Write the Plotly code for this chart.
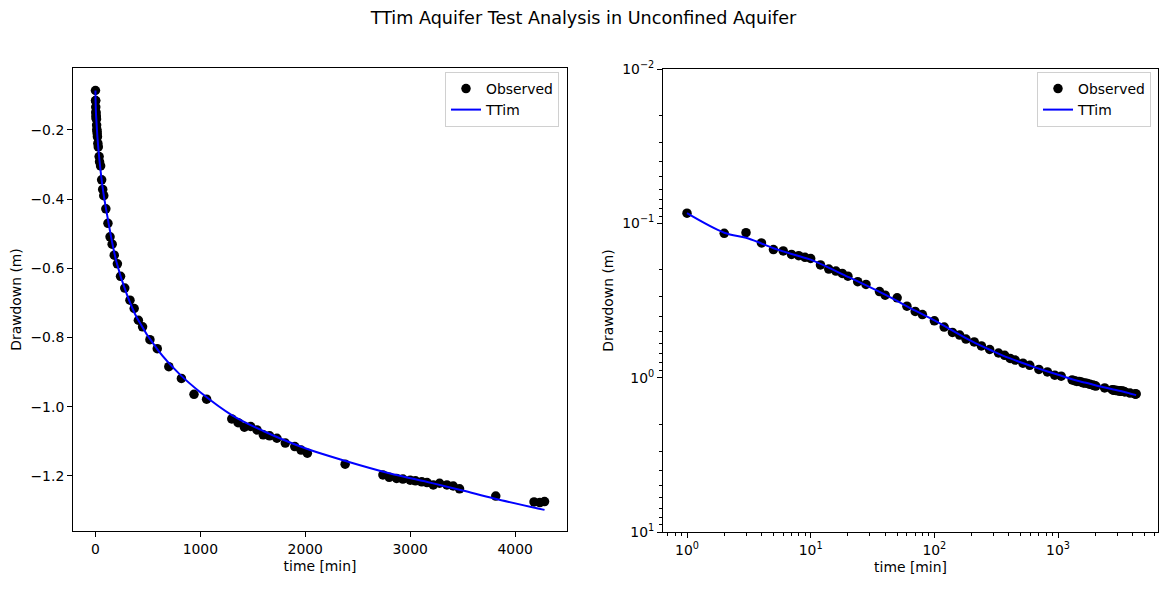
import plotly.graph_objects as go

# ---- data ----
time_obs = [1, 2, 3, 4, 5, 6, 7, 8, 9, 10, 12, 14, 16, 18, 20, 24, 28, 36, 40, 50,
            60, 70, 80, 100, 120, 140, 160, 180, 210, 240, 280, 330, 370, 410, 450,
            520, 590, 700, 820, 940, 1060, 1300, 1360, 1420, 1480, 1540, 1600, 1660,
            1730, 1810, 1900, 1960, 2020, 2380, 2740, 2800, 2870, 2930, 3000, 3050,
            3110, 3160, 3220, 3280, 3350, 3410, 3470, 3815, 4180, 4235, 4280]
drawdown_obs = [0.086, 0.116, 0.115, 0.134, 0.148, 0.151, 0.159, 0.162, 0.166, 0.169,
                0.186, 0.198, 0.204, 0.211, 0.220, 0.239, 0.249, 0.277, 0.292, 0.304,
                0.344, 0.372, 0.390, 0.428, 0.470, 0.509, 0.530, 0.562, 0.587, 0.623,
                0.657, 0.692, 0.716, 0.750, 0.769, 0.806, 0.832, 0.884, 0.918, 0.964,
                0.978, 1.035, 1.046, 1.059, 1.057, 1.067, 1.081, 1.084, 1.091, 1.105,
                1.115, 1.125, 1.134, 1.166, 1.197, 1.204, 1.207, 1.209, 1.212, 1.214,
                1.217, 1.219, 1.226, 1.221, 1.226, 1.229, 1.237, 1.258, 1.275, 1.277,
                1.274]

time_model = [1, 2, 3, 4, 5, 6, 8, 10, 20, 40, 70, 100, 200, 300, 400, 600, 800,
              1000, 1300, 1600, 2000, 2400, 2800, 3200, 3500, 3800, 4280]
drawdown_model = [0.086, 0.115, 0.124, 0.135, 0.145, 0.152, 0.163, 0.172, 0.222,
                  0.290, 0.368, 0.425, 0.580, 0.675, 0.745, 0.838, 0.905, 0.958,
                  1.024, 1.070, 1.120, 1.158, 1.192, 1.220, 1.242, 1.265, 1.298]

lin_tick_vals_x = [0, 1000, 2000, 3000, 4000]
lin_tick_vals_y = [-0.2, -0.4, -0.6, -0.8, -1.0, -1.2]
log_tick_vals_x = [1, 10, 100, 1000]
log_tick_text_x = ["10<sup>0</sup>", "10<sup>1</sup>", "10<sup>2</sup>", "10<sup>3</sup>"]
log_tick_vals_y = [0.01, 0.1, 1, 10]
log_tick_text_y = ["10<sup>\u22122</sup>", "10<sup>\u22121</sup>", "10<sup>0</sup>", "10<sup>1</sup>"]
minor_x = [m * d for d in [0.1, 1, 10, 100, 1000] for m in range(2, 10)]
minor_y = [m * d for d in [0.01, 0.1, 1] for m in range(2, 10)]

W, H = 1167, 589
FONT = "DejaVu Sans"
TICK = 13.9

fig = go.Figure()

fig.add_trace(go.Scatter(x=time_obs, y=[-v for v in drawdown_obs], mode="markers",
                         marker=dict(color="black", size=9.5), name="Observed",
                         xaxis="x", yaxis="y", legend="legend"))
fig.add_trace(go.Scatter(x=time_model, y=[-v for v in drawdown_model], mode="lines",
                         line=dict(color="blue", width=2, shape="spline"), name="TTim",
                         xaxis="x", yaxis="y", legend="legend"))
fig.add_trace(go.Scatter(x=time_obs, y=drawdown_obs, mode="markers",
                         marker=dict(color="black", size=9.5), name="Observed",
                         xaxis="x2", yaxis="y2", legend="legend2"))
fig.add_trace(go.Scatter(x=time_model, y=drawdown_model, mode="lines",
                         line=dict(color="blue", width=2, shape="spline"), name="TTim",
                         xaxis="x2", yaxis="y2", legend="legend2"))


def px_x(p):
    return p / W


def px_y(p):
    return 1 - p / H


axis_common = dict(showline=True, linecolor="black", linewidth=1, mirror=True,
                   ticks="outside", ticklen=5, tickcolor="black", showgrid=False,
                   zeroline=False, tickfont=dict(family=FONT, size=TICK, color="black"),
                   automargin=False)
title_font = dict(family=FONT, size=TICK, color="black")
legend_common = dict(xanchor="right", y=px_y(72), yanchor="top",
                     bordercolor="#d0d0d0", borderwidth=1,
                     bgcolor="rgba(255,255,255,0.8)",
                     font=dict(family=FONT, size=TICK), tracegroupgap=0)

fig.update_layout(
    width=W, height=H,
    margin=dict(l=0, r=0, t=0, b=0),
    paper_bgcolor="white", plot_bgcolor="white",
    font=dict(family=FONT, color="black", size=TICK),
    title=dict(text="TTim Aquifer Test Analysis in Unconfined Aquifer",
               x=0.5, xanchor="center", y=1 - 18 / H, yanchor="middle",
               font=dict(family=FONT, size=17.6, color="black")),
    xaxis=dict(domain=[px_x(73), px_x(567)], range=[-213, 4494], anchor="y",
               tickvals=lin_tick_vals_x,
               title=dict(text="time [min]", standoff=5, font=title_font), **axis_common),
    yaxis=dict(domain=[px_y(531), px_y(68)], range=[-1.359, -0.021], anchor="x",
               tickvals=lin_tick_vals_y, tickformat=".1f",
               title=dict(text="Drawdown (m)", standoff=5, font=title_font), **axis_common),
    xaxis2=dict(domain=[px_x(663), px_x(1158)], type="log", range=[-0.194, 3.808],
                anchor="y2", tickvals=log_tick_vals_x, ticktext=log_tick_text_x,
                minor=dict(ticks="outside", ticklen=3, tickcolor="black", showgrid=False,
                           tickmode="array", tickvals=minor_x),
                title=dict(text="time [min]", standoff=5, font=title_font), **axis_common),
    yaxis2=dict(domain=[px_y(532), px_y(69)], type="log", range=[1, -2],
                anchor="x2", tickvals=log_tick_vals_y, ticktext=log_tick_text_y,
                minor=dict(ticks="outside", ticklen=3, tickcolor="black", showgrid=False,
                           tickmode="array", tickvals=minor_y),
                title=dict(text="Drawdown (m)", standoff=5, font=title_font), **axis_common),
    legend=dict(x=px_x(559), **legend_common),
    legend2=dict(x=px_x(1151), **legend_common),
)

fig.write_html("out.html")
